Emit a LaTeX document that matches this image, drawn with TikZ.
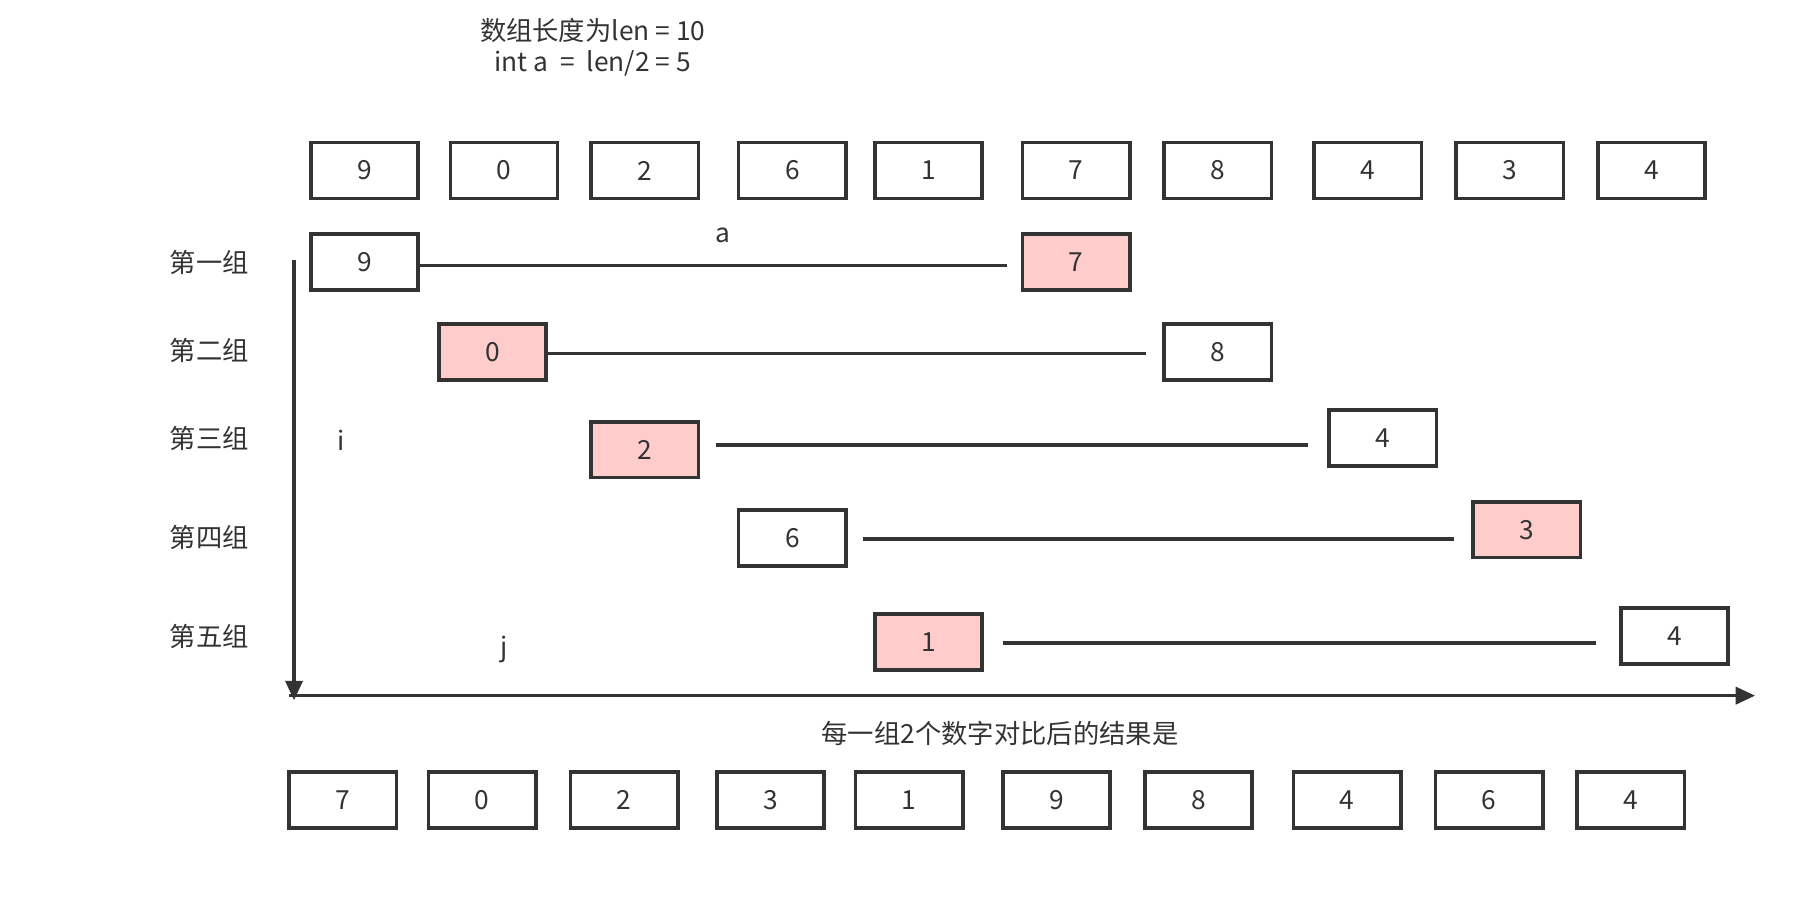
\documentclass[tikz,border=0pt]{standalone}
\usepackage{fontspec}
\setmainfont{Noto Sans CJK SC}
\usetikzlibrary{arrows.meta}
\definecolor{ink}{HTML}{333333}
\definecolor{pinkfill}{HTML}{FFCCCC}
\tikzset{
 cell/.style={draw=ink, line width=1.6pt, minimum width=46.9pt, minimum height=24.4pt, inner sep=0pt, text=ink, font=\fontsize{11.5}{13}\selectfont},
 hot/.style={cell, fill=pinkfill},
 conn/.style={draw=ink, line width=1.5pt},
 lbl/.style={text=ink, font=\fontsize{11.5}{13.5}\selectfont, inner sep=0pt},
 axis/.style={draw=ink, line width=1.5pt, -{Triangle[length=8.5pt,width=7.5pt]}},
}
\begin{document}
\begin{tikzpicture}[x=0.5pt,y=-0.5pt]
\useasboundingbox (0,0) rectangle (1568,788);
% title
\node[lbl, align=center] (title) at (518,41) {数组长度为len = 10\\int a \ = \ len/2 = 5};
% top array
\foreach \x/\v [count=\i] in {318.5/9,440.5/0,563.5/2,692.5/6,811.5/1,940.5/7,1064.5/8,1195.5/4,1319.5/3,1443.5/4}
  \node[cell] (t\i) at (\x,149) {\v};
% group labels
\node[lbl] (g1) at (183,229) {第一组};
\node[lbl] (g2) at (183,306) {第二组};
\node[lbl] (g3) at (183,383) {第三组};
\node[lbl] (g4) at (183,470) {第四组};
\node[lbl] (g5) at (183,556) {第五组};
% group rows
\node[cell] (r1a) at (318.5,229) {9};
\node[hot]  (r1b) at (940.5,229) {7};
\node[hot]  (r2a) at (430.5,307.5) {0};
\node[cell] (r2b) at (1064.5,307.5) {8};
\node[hot]  (r3a) at (563.5,393) {2};
\node[cell] (r3b) at (1208.5,383) {4};
\node[cell] (r4a) at (692.5,470) {6};
\node[hot]  (r4b) at (1334.5,463) {3};
\node[hot]  (r5a) at (811.5,561) {1};
\node[cell] (r5b) at (1463.5,556) {4};
% connectors
\draw[conn] ([xshift=-1pt]r1a.east |- 0,232) -- ([xshift=-6pt]r1b.west |- 0,232);
\draw[conn] (r2a.east |- 0,309) -- ([xshift=-7pt]r2b.west |- 0,309);
\draw[conn] ([xshift=7pt]r3a.east |- 0,389) -- ([xshift=-8.5pt]r3b.west |- 0,389);
\draw[conn] ([xshift=6.5pt]r4a.east |- 0,471) -- ([xshift=-7.5pt]r4b.west |- 0,471);
\draw[conn] ([xshift=8.5pt]r5a.east |- 0,562) -- ([xshift=-10pt]r5b.west |- 0,562);
% labels a, i, j
\node[lbl] (la) at (632,206) {a};
\node[lbl] (li) at (298,385) {i};
\node[lbl] (lj) at (441,568) {j};
% axes
\coordinate (vtop) at (257,227);
\coordinate (vbot) at (257,612);
\coordinate (hl) at (253,608);
\coordinate (hr) at (1534,608);
\draw[axis] (vtop) -- (vbot);
\draw[axis] (hl) -- (hr);
% result caption
\node[lbl] (cap) at (874,641) {每一组2个数字对比后的结果是};
% bottom array
\foreach \x/\v [count=\i] in {299.5/7,421.5/0,545.5/2,673.5/3,794.5/1,923.5/9,1047.5/8,1177.5/4,1301.5/6,1425.5/4}
  \node[cell] (b\i) at (\x,699) {\v};
\end{tikzpicture}
\end{document}
